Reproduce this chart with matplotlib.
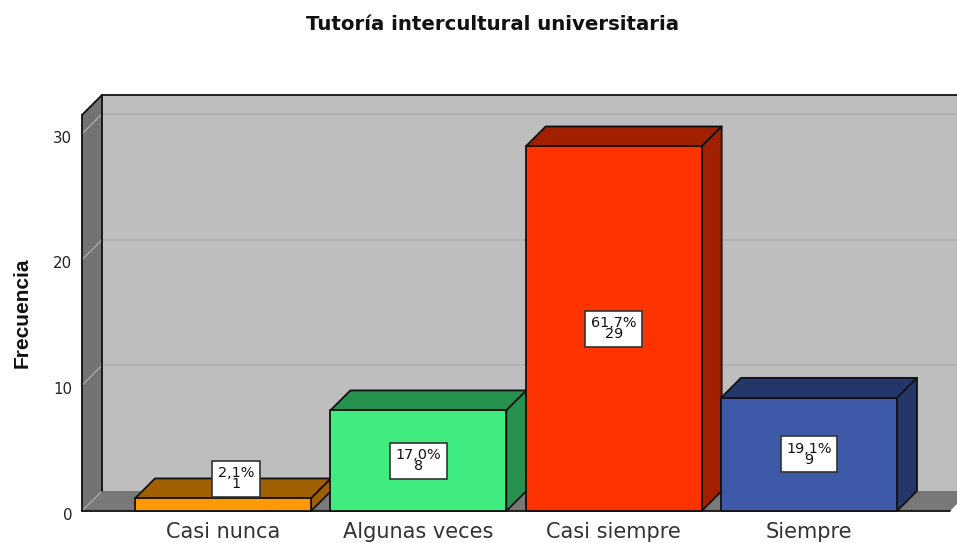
import matplotlib
matplotlib.use("Agg")
import matplotlib.pyplot as plt
from matplotlib.patches import Polygon
from matplotlib.transforms import ScaledTranslation

# Datos
categorias = ["Casi nunca", "Algunas veces", "Casi siempre", "Siempre"]
frecuencias = [1, 8, 29, 9]
porcentajes = ["2,1%", "17,0%", "61,7%", "19,1%"]
ticks_y = [0, 10, 20, 30]

colores_frente = ["#FF9900", "#40EB80", "#FF3300", "#3E59A8"]
colores_arriba = ["#A06000", "#27924F", "#A02000", "#25376A"]

W, H = 957, 543
# escala en pixeles
PX_X = 195.33
PX_Y = 12.57
X0_PX = 223
Y0_PX = 511
DX = 20 / PX_X
DY = 20 / PX_Y
ANCHO = 176 / PX_X
NEGRO = "#111111"
FUENTE = "DejaVu Sans"

fig = plt.figure(figsize=(W / 100, H / 100), dpi=100)
izq, der, arr = 82, 950, 115
ax = fig.add_axes([izq / W, 1 - Y0_PX / H, (der - izq) / W, (Y0_PX - arr) / H])
xmin = (izq - X0_PX) / PX_X
xmax = (der - X0_PX) / PX_X
ymax = (Y0_PX - arr) / PX_Y
ax.set_xlim(xmin, xmax)
ax.set_ylim(0, ymax)
for s in ax.spines.values():
    s.set_visible(False)
ax.patch.set_visible(False)


def poli(puntos, color, z, lw=1.3, borde=NEGRO):
    ax.add_patch(Polygon(puntos, closed=True, facecolor=color, edgecolor=borde,
                         linewidth=lw, zorder=z, clip_on=False, joinstyle="round"))


def linea(xs, ys, color, lw, z=4):
    ax.plot(xs, ys, color=color, lw=lw, zorder=z, clip_on=False, solid_capstyle="round")


# Paredes del fondo
xfin = xmax + 2 * DX
poli([(xmin + DX, DY), (xfin, DY), (xfin, ymax + DY), (xmin + DX, ymax + DY)], "#BEBEBE", 1, borde="none")
poli([(xmin, 0), (xmin + DX, DY), (xmin + DX, ymax + DY), (xmin, ymax)], "#737373", 2, borde="none")
poli([(xmin, 0), (xmax, 0), (xmax + DX, DY), (xmin + DX, DY)], "#787878", 2, borde="none")

# Lineas de la rejilla
for t in ticks_y[1:]:
    linea([xmin + DX, xfin], [t + DY, t + DY], "#B0B0B0", 1.3, z=3)
    linea([xmin, xmin + DX], [t, t + DY], "#A8A8A8", 1.0, z=3)
linea([xmin, xmin + DX], [0, DY], "#A8A8A8", 1.0, z=3)

# Contornos de la caja
linea([xmin + DX, xmin + DX], [DY, ymax + DY], NEGRO, 1.3)
linea([xmin + DX, xfin], [ymax + DY, ymax + DY], NEGRO, 1.3)
linea([xmin, xmin + DX], [ymax, ymax + DY], NEGRO, 1.3)
linea([xmin, xmin], [0, ymax], NEGRO, 1.3)
linea([xmin, xmax], [0, 0], NEGRO, 1.3)

# Barras 3D
for i, v in enumerate(frecuencias):
    a, b = i - ANCHO / 2, i + ANCHO / 2
    poli([(b, v), (b + DX, v + DY), (a + DX, v + DY), (a, v)], colores_arriba[i], 5 + i)
    poli([(b, 0), (b + DX, DY), (b + DX, v + DY), (b, v)], colores_arriba[i], 5 + i)
    poli([(a, 0), (b, 0), (b, v), (a, v)], colores_frente[i], 5 + i)

# Etiquetas de las barras
for i, v in enumerate(frecuencias):
    # la barra baja lleva la etiqueta sobre la cara superior
    xc = i + 13 / PX_X if v < 3 else i
    yc = 2.55 if v < 3 else v / 2
    ax.text(xc, yc, f"{porcentajes[i]}\n{v}", ha="center", va="center", fontsize=10.4,
            family=FUENTE, linespacing=0.72, color=NEGRO, zorder=20,
            bbox=dict(boxstyle="square,pad=0.38", facecolor="white", edgecolor="#333333", linewidth=1.2))

# Ejes
ax.set_xticks(range(len(categorias)), categorias)
ax.set_yticks(ticks_y)
ax.tick_params(axis="x", length=0, pad=8, labelsize=15, labelcolor="#333333")
ax.tick_params(axis="y", length=0, pad=7, labelsize=10.8, labelcolor="#222222")
for lab in ax.get_xticklabels() + ax.get_yticklabels():
    lab.set_family(FUENTE)
# los numeros del eje y quedan un poco mas abajo que la marca
baja = ScaledTranslation(0, -2 / 72, fig.dpi_scale_trans)
for lab in ax.get_yticklabels():
    lab.set_transform(lab.get_transform() + baja)

fig.text(22 / W, 1 - 313 / H, "Frecuencia", rotation=90, ha="center", va="center",
         fontsize=15, fontweight="bold", family="Liberation Sans", color=NEGRO)
fig.text(492 / W, 1 - 24 / H, "Tutoría intercultural universitaria", ha="center", va="center",
         fontsize=14.2, fontweight="bold", family=FUENTE, color=NEGRO)

fig.savefig("out.png", dpi=100)
